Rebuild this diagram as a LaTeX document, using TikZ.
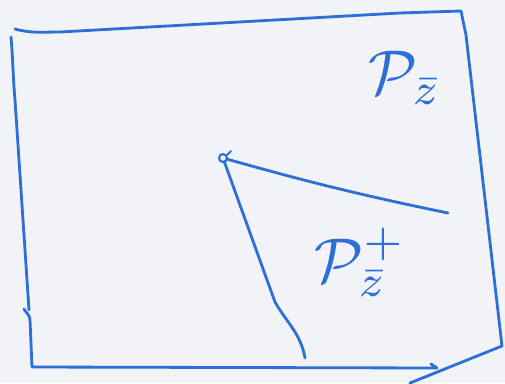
\documentclass[tikz,border=0pt]{standalone}
\usepackage{amsmath, amssymb}
\usetikzlibrary{calc}
\definecolor{pen}{RGB}{45,110,215}
\definecolor{paper}{RGB}{241,243,247}

\begin{document}
\begin{tikzpicture}[x=0.02cm, y=-0.02cm, line width=1.6pt, line cap=round, line join=round]
			\fill[paper] (0,0) rectangle (505,383);
			\useasboundingbox (0,0) rectangle (505,383);

			\coordinate (TL) at (15,29);
			\coordinate (TR) at (461,11);
			\coordinate (BR) at (502,346);
			\coordinate (BL) at (32,367);
			\coordinate (L1) at (11,37);
			\coordinate (L2) at (29,310);
			\coordinate (L3) at (24,309);
			\coordinate (BE) at (437,368);
			\coordinate (BX) at (410,383);
			\coordinate (Z) at (223,158);
			\coordinate (R) at (448,213);
			\coordinate (K) at (275,302);
			\coordinate (S) at (305,358);

			% frame
			\draw[pen] (TL) to[out=-15, in=180] (60,32) -- (400,13) -- (TR) -- (466,35) -- (BR);
			\draw[pen] (BR) -- (BX);
			\draw[pen] (L1) to[out=-85, in=95] (15,100) -- (L2);
			\draw[pen] (L3) to[out=-60, in=92] (30,320) -- (BL) -- (BE) -- (431,364);

			% point and the two curves
			\node[draw=pen, circle, line width=1.2pt, inner sep=1.6pt] (z) at (Z) {};
			\draw[pen] (z) -- (K) to[out=-60, in=100] (S);
			\draw[pen] (R) to[bend left=2] (z);
			\draw[pen, line width=1.2pt] ($(z)+(8,-7)$) -- ($(z)+(4,-3)$);

			\node[pen, scale=3.6] (pz) at (405,78) {$\mathcal{P}_{\bar z}$};
			\node[pen, scale=3.6] (pzp) at (360,262) {$\mathcal{P}_{\bar z}^{+}$};
		\end{tikzpicture}
\end{document}
